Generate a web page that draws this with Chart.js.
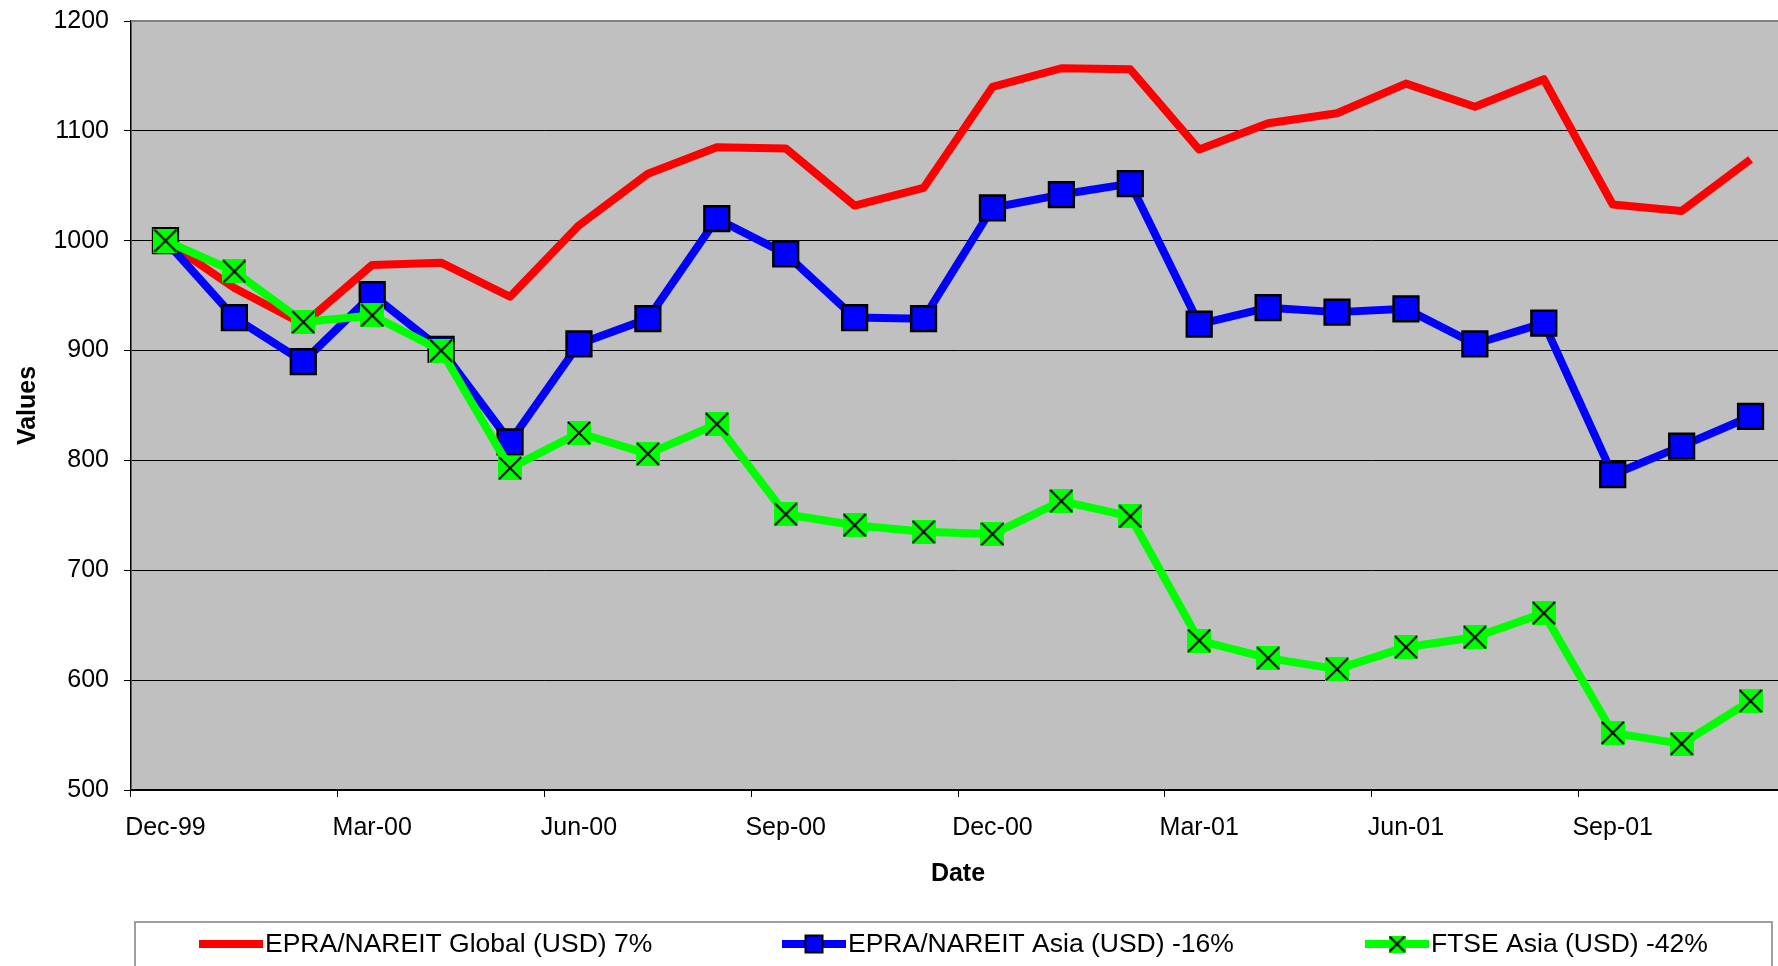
<!DOCTYPE html>
<html>
<head>
<meta charset="utf-8">
<title>EPRA/NAREIT vs FTSE Asia</title>
<script src="https://cdn.jsdelivr.net/npm/chart.js@4.4.1/dist/chart.umd.min.js"></script>
<style>
  html, body { margin: 0; padding: 0; background: #fff; overflow: hidden; }
  canvas { display: block; }
</style>
</head>
<body>
<!-- wider than the window: the plot area runs a few px past the right edge, as in the original -->
<canvas id="indexChart" width="1805" height="966"></canvas>
<script>
const months = [
	'Dec-99', 'Jan-00', 'Feb-00', 'Mar-00', 'Apr-00', 'May-00', 'Jun-00', 'Jul-00',
	'Aug-00', 'Sep-00', 'Oct-00', 'Nov-00', 'Dec-00', 'Jan-01', 'Feb-01', 'Mar-01',
	'Apr-01', 'May-01', 'Jun-01', 'Jul-01', 'Aug-01', 'Sep-01', 'Oct-01', 'Nov-01',
];
const globalUsd = [
	1000, 957, 924, 978, 980, 949, 1014, 1061, 1085, 1084, 1032, 1048,
	1140, 1157, 1156, 1083, 1107, 1116, 1143, 1122, 1147, 1033, 1027, 1074,
];
const asiaUsd = [
	1000, 930, 890, 951, 901, 817, 906, 929, 1020, 988, 930, 929,
	1030, 1042, 1052, 924, 939, 935, 938, 906, 925, 787, 813, 840,
];
const ftseAsiaUsd = [
	1000, 972, 926, 932, 900, 793, 825, 806, 833, 751, 741, 735,
	733, 763, 749, 636, 620, 610, 630, 639, 661, 552, 542, 581,
];
const seriesNames = [
	'EPRA/NAREIT Global (USD) 7%',
	'EPRA/NAREIT Asia (USD) -16%',
	'FTSE Asia (USD) -42%',
];
const yTicks = { min: 500, max: 1200, step: 100 };

const FONT = '"Liberation Sans", Arial, Helvetica, sans-serif';
Chart.defaults.font.family = FONT;
Chart.defaults.color = '#000';

// green square with a black X, like the Excel marker
function makeCrossMarker(size) {
	const c = document.createElement('canvas');
	c.width = size;
	c.height = size;
	const g = c.getContext('2d');
	g.fillStyle = '#00FF00';
	g.fillRect(0, 0, size, size);
	g.strokeStyle = '#000';
	g.lineWidth = 2;
	g.beginPath();
	g.moveTo(1, 1);
	g.lineTo(size - 1, size - 1);
	g.moveTo(size - 1, 1);
	g.lineTo(1, size - 1);
	g.stroke();
	return c;
}
const crossMarker = makeCrossMarker(24);
const crossMarkerSmall = makeCrossMarker(17);

const plotBackground = {
	id: 'plotBackground',
	beforeDraw(chart) {
		const { ctx, chartArea: a } = chart;
		ctx.save();
		ctx.fillStyle = '#C0C0C0';
		ctx.fillRect(a.left, a.top, a.right - a.left, a.bottom - a.top);
		ctx.restore();
	},
	beforeDatasetsDraw(chart) {
		const { ctx, chartArea: a } = chart;
		ctx.save();
		ctx.strokeStyle = '#808080';
		ctx.lineWidth = 2;
		ctx.beginPath();
		ctx.moveTo(a.left, a.top);
		ctx.lineTo(a.right, a.top);
		ctx.stroke();
		ctx.restore();
	},
};

const legendBox = {
	id: 'legendBox',
	afterDraw(chart) {
		const { ctx } = chart;
		ctx.save();
		ctx.strokeStyle = '#808080';
		ctx.lineWidth = 1.5;
		ctx.strokeRect(135, 922, 1637, 80);
		ctx.font = '26.5px ' + FONT;
		ctx.textBaseline = 'middle';
		chart.data.datasets.forEach((ds, i) => {
			const x = 199 + i * 583;
			const y = 944;
			ctx.strokeStyle = ds.borderColor;
			ctx.lineWidth = ds.borderWidth;
			ctx.beginPath();
			ctx.moveTo(x, y);
			ctx.lineTo(x + 64, y);
			ctx.stroke();
			const mx = x + 32;
			if (ds.pointStyle === 'rect') {
				ctx.fillStyle = ds.pointBackgroundColor;
				ctx.fillRect(mx - 8.5, y - 8.5, 17, 17);
				ctx.strokeStyle = '#000';
				ctx.lineWidth = 2;
				ctx.strokeRect(mx - 8.5, y - 8.5, 17, 17);
			} else if (ds.pointStyle === crossMarker) {
				ctx.drawImage(crossMarkerSmall, mx - 8.5, y - 8.5);
			}
			ctx.fillStyle = '#000';
			ctx.fillText(ds.label, x + 66, y + 1);
		});
		ctx.restore();
	},
};

new Chart(document.getElementById('indexChart'), {
	type: 'line',
	data: {
		labels: months,
		datasets: [
			{
				label: seriesNames[0],
				data: globalUsd,
				borderColor: '#FF0000',
				borderWidth: 8,
				borderJoinStyle: 'round',
				pointRadius: 0,
				order: 3,
			},
			{
				label: seriesNames[1],
				data: asiaUsd,
				borderColor: '#0000FF',
				borderWidth: 8,
				borderJoinStyle: 'round',
				pointStyle: 'rect',
				pointRadius: 17.5,
				pointBackgroundColor: '#0000FF',
				pointBorderColor: '#000',
				pointBorderWidth: 2.5,
				order: 2,
			},
			{
				label: seriesNames[2],
				data: ftseAsiaUsd,
				borderColor: '#00FF00',
				borderWidth: 8,
				borderJoinStyle: 'round',
				pointStyle: crossMarker,
				pointRadius: 12,
				order: 1,
			},
		],
	},
	options: {
		responsive: false,
		animation: false,
		events: [],
		devicePixelRatio: 1,
		layout: { padding: { left: 0, top: 21, right: 1, bottom: 76 } },
		plugins: {
			legend: { display: false },
			tooltip: { enabled: false },
		},
		scales: {
			x: {
				offset: true,
				afterFit(scale) {
					scale.height = 100;
					scale.paddingLeft = 0;
					scale.paddingRight = 0;
				},
				grid: {
					offset: true,
					drawOnChartArea: false,
					tickLength: 7,
					tickColor: (c) => (c.index % 3 === 0 ? '#000' : 'rgba(0,0,0,0)'),
				},
				border: { display: true, color: '#000', width: 1.5 },
				ticks: {
					autoSkip: false,
					maxRotation: 0,
					minRotation: 0,
					padding: 16,
					font: { size: 25 },
					callback(value, index) {
						return index % 3 === 0 ? this.getLabelForValue(value) : '';
					},
				},
				title: {
					display: true,
					text: 'Date',
					font: { size: 25, weight: 'bold' },
					padding: { top: 0, bottom: 1 },
				},
			},
			y: {
				min: yTicks.min,
				max: yTicks.max,
				afterFit(scale) {
					scale.width = 131;
					scale.paddingTop = 0;
					scale.paddingBottom = 0;
				},
				grid: {
					color: '#000',
					lineWidth: 1,
					tickLength: 7,
					tickColor: '#000',
				},
				border: { display: true, color: '#000', width: 1.5 },
				ticks: {
					stepSize: yTicks.step,
					padding: 15,
					font: { size: 25 },
					callback: (value) => String(value),
				},
				title: {
					display: true,
					text: 'Values',
					font: { size: 25, weight: 'bold' },
					padding: { top: 13, bottom: 0 },
				},
			},
		},
	},
	plugins: [plotBackground, legendBox],
});
</script>
</body>
</html>
